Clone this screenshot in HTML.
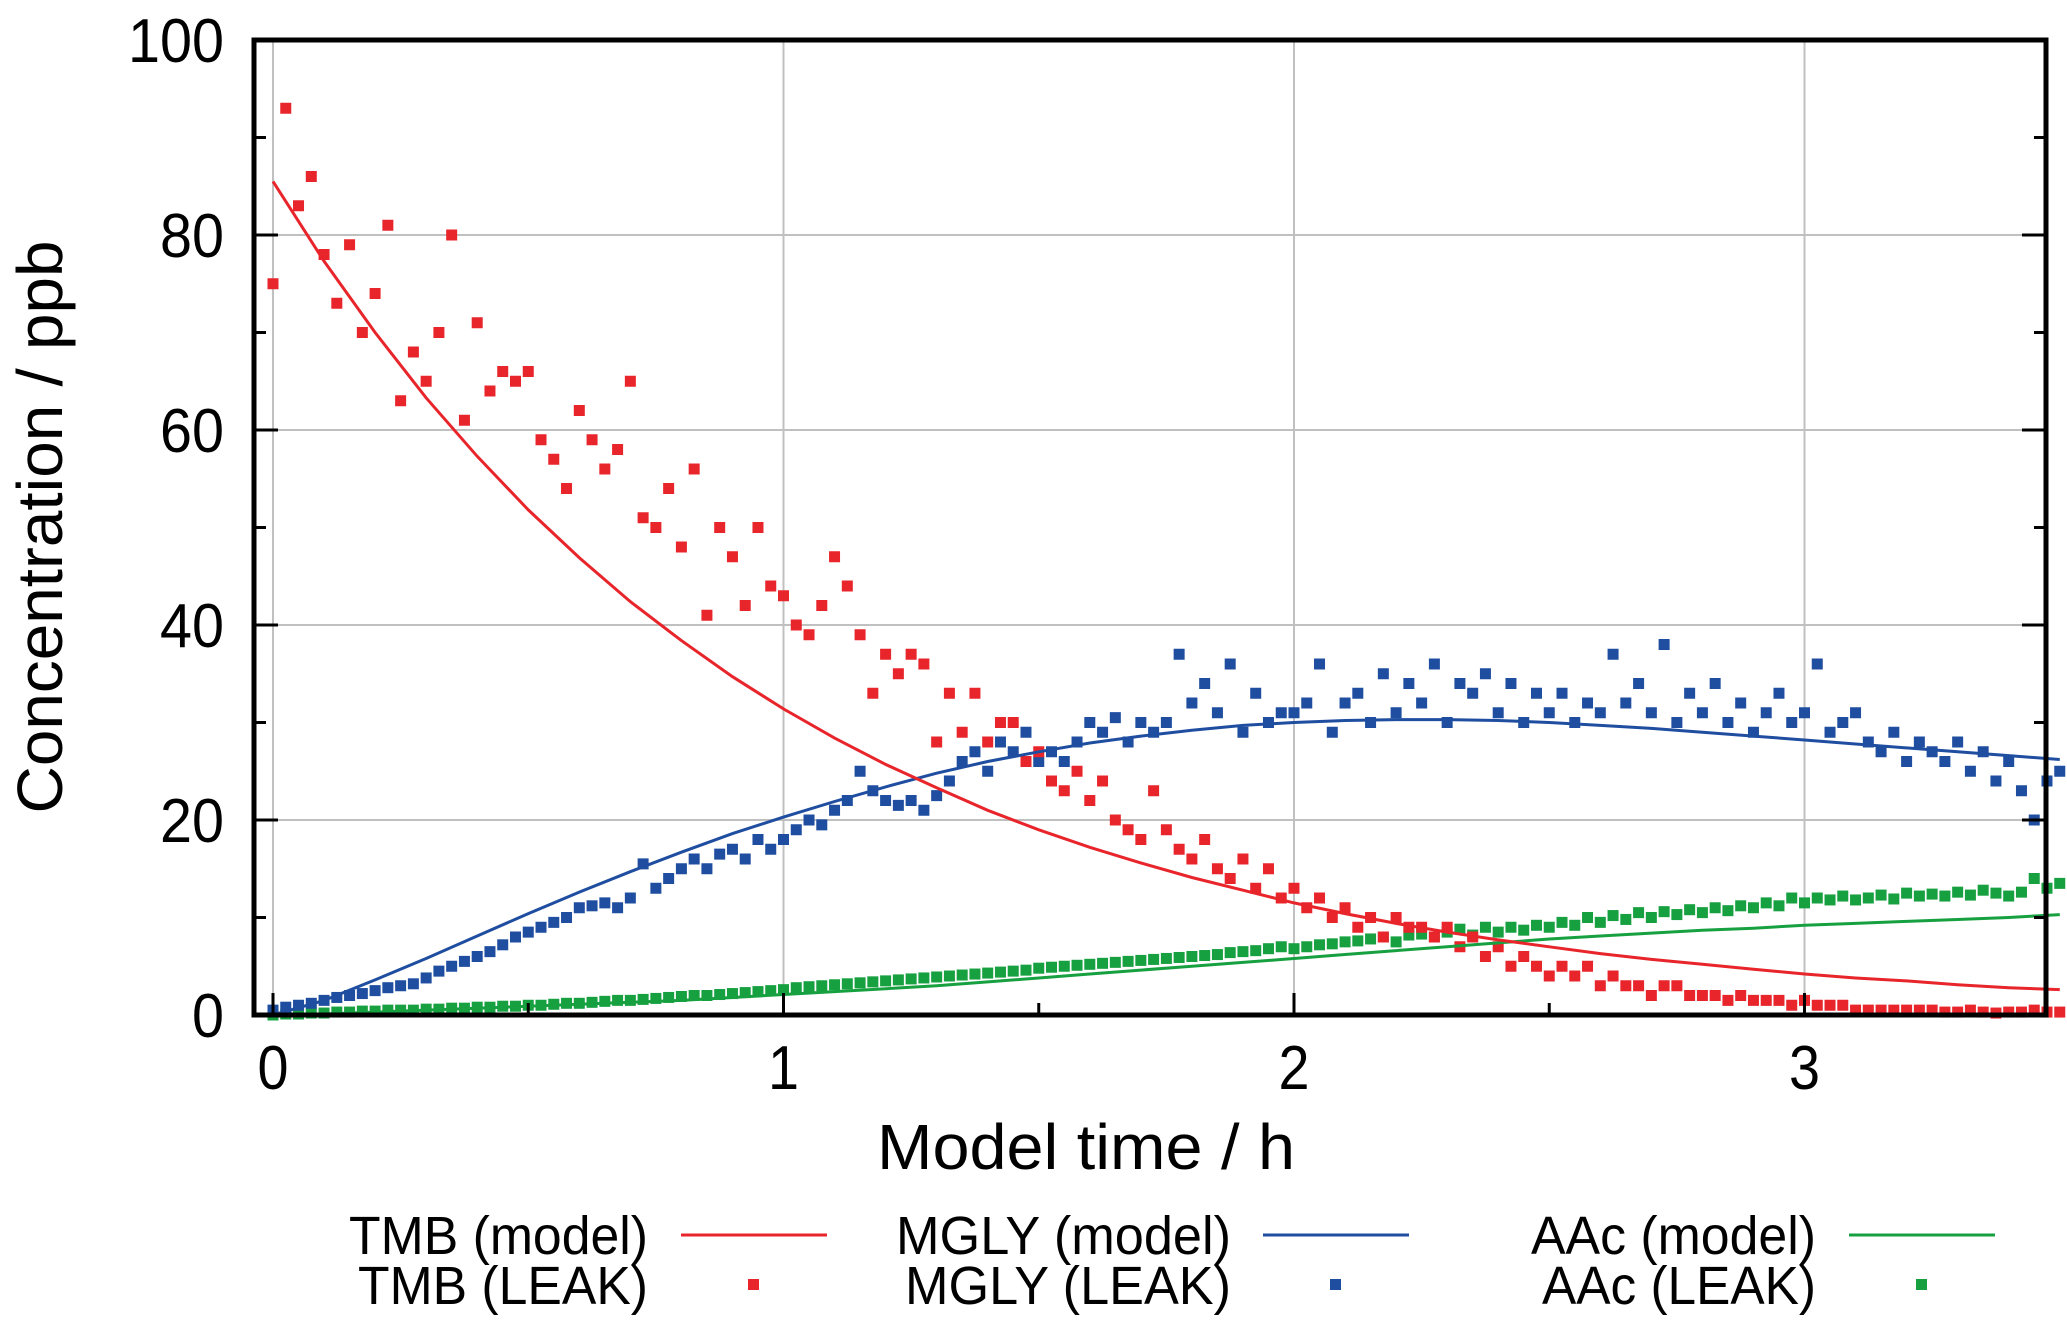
<!DOCTYPE html>
<html><head><meta charset="utf-8"><style>
html,body{margin:0;padding:0;background:#fff;}
svg{display:block;font-family:"Liberation Sans",Arial,sans-serif;}
</style></head><body>
<svg id="chart" width="2067" height="1331" viewBox="0 0 2067 1331" xmlns="http://www.w3.org/2000/svg">
<g id="grid"></g>
<g id="series"></g>
<g id="axes"></g>
<text transform="translate(62,527) rotate(-90)" text-anchor="middle" font-size="64" textLength="573" lengthAdjust="spacingAndGlyphs">Concentration / ppb</text>
<text x="1086" y="1169" text-anchor="middle" font-size="64" textLength="418" lengthAdjust="spacingAndGlyphs">Model time / h</text>
<g id="legend"></g>
</svg>
<script>
const xTicks=[0,1,2,3];
const xTickLabels=["0","1","2","3"];
const yTicks=[0,20,40,60,80,100];
const yTickLabels=["0","20","40","60","80","100"];
const modelTimes=[0,0.1,0.2,0.3,0.4,0.5,0.6,0.7,0.8,0.9,1.0,1.1,1.2,1.3,1.4,1.5,1.6,1.7,1.8,1.9,2.0,2.1,2.2,2.3,2.4,2.5,2.6,2.7,2.8,2.9,3.0,3.1,3.2,3.3,3.4,3.5];
const tmbModel=[85.5,77.3,70.0,63.3,57.3,51.8,46.9,42.4,38.4,34.7,31.4,28.4,25.7,23.3,21.0,19.0,17.2,15.6,14.1,12.8,11.5,10.4,9.4,8.5,7.7,7.0,6.3,5.7,5.2,4.7,4.2,3.8,3.5,3.1,2.8,2.6];
const mglyModel=[0,1.5,3.6,5.8,8.1,10.4,12.6,14.7,16.7,18.6,20.3,21.9,23.4,24.8,26.0,27.0,27.9,28.6,29.2,29.7,30.0,30.2,30.3,30.3,30.2,30.0,29.7,29.4,29.0,28.6,28.2,27.8,27.4,27.0,26.6,26.2];
const aacModel=[0,0.1,0.3,0.5,0.7,0.9,1.1,1.3,1.5,1.8,2.1,2.4,2.7,3.0,3.4,3.8,4.2,4.6,5.0,5.4,5.8,6.2,6.6,7.0,7.4,7.8,8.1,8.4,8.7,8.9,9.2,9.4,9.6,9.8,10.0,10.3];
const leakStep=0.025;
const tmbLeak=[75,93,83,86,78,73,79,70,74,81,63,68,65,70,80,61,71,64,66,65,66,59,57,54,62,59,56,58,65,51,50,54,48,56,41,50,47,42,50,44,43,40,39,42,47,44,39,33,37,35,37,36,28,33,29,33,28,30,30,26,27,24,23,25,22,24,20,19,18,23,19,17,16,18,15,14,16,13,15,12,13,11,12,10,11,9,10,8,10,9,9,8,9,7,8,6,7,5,6,5,4,5,4,5,3,4,3,3,2,3,3,2,2,2,1.5,2,1.5,1.5,1.5,1,1.5,1,1,1,0.5,0.5,0.5,0.5,0.5,0.5,0.5,0.3,0.3,0.5,0.3,0.2,0.3,0.3,0.5,0.3,0.3];
const mglyLeak=[0.5,0.8,1,1.2,1.5,1.8,2,2.2,2.5,2.8,3,3.2,3.8,4.5,5,5.5,6,6.5,7.2,8,8.5,9,9.5,10,11,11.2,11.5,11,12,15.5,13,14,15,16,15,16.5,17,16,18,17,18,19,20,19.5,21,22,25,23,22,21.5,22,21,22.5,24,26,27,25,28,27,29,26,27,26,28,30,29,30.5,28,30,29,30,37,32,34,31,36,29,33,30,31,31,32,36,29,32,33,30,35,31,34,32,36,30,34,33,35,31,34,30,33,31,33,30,32,31,37,32,34,31,38,30,33,31,34,30,32,29,31,33,30,31,36,29,30,31,28,27,29,26,28,27,26,28,25,27,24,26,23,20,24,25];
const aacLeak=[0,0.1,0.1,0.2,0.2,0.3,0.3,0.4,0.4,0.5,0.5,0.5,0.6,0.6,0.7,0.7,0.8,0.8,0.9,0.9,1,1,1.1,1.2,1.2,1.3,1.4,1.5,1.5,1.6,1.7,1.8,1.9,2,2,2.1,2.2,2.3,2.4,2.5,2.6,2.8,2.9,3,3.1,3.2,3.3,3.4,3.5,3.6,3.7,3.8,3.9,4,4.1,4.2,4.3,4.4,4.5,4.6,4.8,4.9,5,5.1,5.2,5.3,5.4,5.5,5.6,5.7,5.8,5.9,6,6.1,6.2,6.4,6.5,6.6,6.8,7,6.8,7,7.2,7.3,7.5,7.6,7.8,8,7.5,8.2,8.3,8,8.5,8.8,8.2,9,8.5,9,8.7,9.2,9,9.5,9.2,10,9.5,10.2,9.8,10.5,10,10.6,10.3,10.8,10.5,11,10.7,11.2,11,11.5,11.2,12,11.5,12,11.8,12.2,11.8,12,12.3,11.9,12.5,12.2,12.4,12.2,12.6,12.3,12.8,12.5,12.2,12.6,14,13,13.5];

const L=254,R=2046,T=40,B=1015;
const xs=t=>273+t*510.5;
const ys=v=>B-v*(B-T)/100;
const NS="http://www.w3.org/2000/svg";
function mk(tag,parent,attrs){const e=document.createElementNS(NS,tag);for(const k in attrs)e.setAttribute(k,attrs[k]);parent.appendChild(e);return e;}
const grid=document.getElementById('grid'),axes=document.getElementById('axes'),series=document.getElementById('series'),legend=document.getElementById('legend');

xTicks.forEach((t,i)=>{
  const g=mk('line',grid,{x1:xs(t),x2:xs(t),y1:T,y2:B,stroke:'#c0c0c0','stroke-width':2});
  
  
  const tk=mk('line',axes,{x1:xs(t),x2:xs(t),y1:B,y2:B-22,stroke:'#000','stroke-width':3});
  
  
  const tx=mk('text',axes,{x:xs(t),y:1089,'text-anchor':'middle','font-size':62,textLength:xTickLabels[i].length*31,lengthAdjust:'spacingAndGlyphs'});
  tx.textContent=xTickLabels[i];
  
  
});
for(let t=0.5;t<3.5;t+=1){
  const tk=mk('line',axes,{x1:xs(t),x2:xs(t),y1:B,y2:B-12,stroke:'#000','stroke-width':3});
  
  
}
yTicks.forEach((v,i)=>{
  if(v>0&&v<100){
  const g=mk('line',grid,{x1:L,x2:R,y1:ys(v),y2:ys(v),stroke:'#c0c0c0','stroke-width':2});
  
  }
  [[L,L+24],[R,R-24]].forEach(p=>{
  const tk=mk('line',axes,{x1:p[0],x2:p[1],y1:ys(v),y2:ys(v),stroke:'#000','stroke-width':3});
  
  });
  const tx=mk('text',axes,{x:224,y:ys(v)+22,'text-anchor':'end','font-size':62,textLength:yTickLabels[i].length*32,lengthAdjust:'spacingAndGlyphs'});
  tx.textContent=yTickLabels[i];
  
  
});
for(let v=10;v<100;v+=20){
  [[L,L+12],[R,R-12]].forEach(p=>{
  const tk=mk('line',axes,{x1:p[0],x2:p[1],y1:ys(v),y2:ys(v),stroke:'#000','stroke-width':3});
  
  });
}
const fr=mk('rect',axes,{x:L,y:T,width:R-L,height:B-T,fill:'none',stroke:'#000','stroke-width':5});



const cols={tmb:'#e8252b',mgly:'#1f4ea0',aac:'#17a040'};
function scatter(arr,col,name){
  const g=mk('g',series,{});
  
  
  arr.forEach((v,i)=>{
    const r=mk('rect',g,{x:xs(i*leakStep)-5.5,y:ys(v)-5.5,width:11,height:11,fill:col});
    
    
  });
}
function line(arr,col,name){
  const d=arr.map((v,i)=>(i?'L':'M')+xs(modelTimes[i]).toFixed(1)+','+ys(v).toFixed(1)).join('');
  const p=mk('path',series,{d:d,fill:'none',stroke:col,'stroke-width':3});
  
  
}
scatter(aacLeak,cols.aac,'aac-leak-series');
scatter(mglyLeak,cols.mgly,'mgly-leak-series');
scatter(tmbLeak,cols.tmb,'tmb-leak-series');
line(aacModel,cols.aac,'aac-model-line');
line(mglyModel,cols.mgly,'mgly-model-line');
line(tmbModel,cols.tmb,'tmb-model-line');

const leg=[["TMB (model)","TMB (LEAK)",648,681,cols.tmb,299,290],["MGLY (model)","MGLY (LEAK)",1231,1263,cols.mgly,335,326],["AAc (model)","AAc (LEAK)",1816,1849,cols.aac,285,274]];
leg.forEach(e=>{
  const t1=mk('text',legend,{x:e[2],y:1254,'text-anchor':'end','font-size':54,textLength:e[5],lengthAdjust:'spacingAndGlyphs'});
  t1.textContent=e[0];
  
  
  const t2=mk('text',legend,{x:e[2],y:1304,'text-anchor':'end','font-size':54,textLength:e[6],lengthAdjust:'spacingAndGlyphs'});
  t2.textContent=e[1];
  
  
  const l=mk('line',legend,{x1:e[3],x2:e[3]+146,y1:1235,y2:1235,stroke:e[4],'stroke-width':3});
  
  
  const m=mk('rect',legend,{x:e[3]+67,y:1279,width:11,height:11,fill:e[4]});
  
  
});
</script>
</body></html>
